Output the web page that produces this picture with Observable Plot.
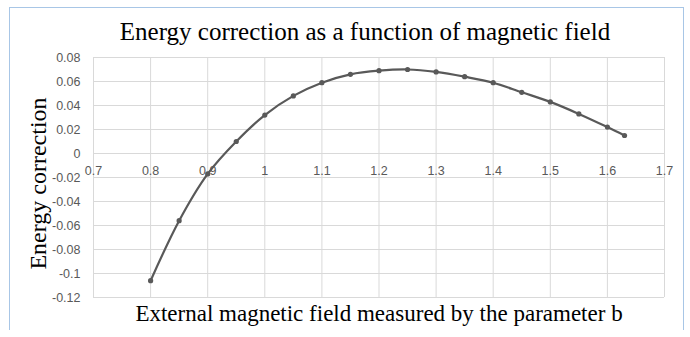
<!DOCTYPE html>
<html>
<head>
<meta charset="utf-8">
<script src="https://cdn.jsdelivr.net/npm/d3@7"></script>
<script src="https://cdn.jsdelivr.net/npm/@observablehq/plot@0.6"></script>
<style>
  html, body { margin: 0; padding: 0; background: #fff; }
  #wrap { position: relative; width: 690px; height: 337px; }
  #frame { position: absolute; left: 9px; top: 7px; width: 673px; height: 322px;
           border-left: 1.5px solid #a8c6e6; border-top: 1.5px solid #a8c6e6; border-right: 1.5px solid #a8c6e6; pointer-events: none; }
  #chart { position: absolute; left: 0; top: 0; }
</style>
</head>
<body>
<div id="wrap"><div id="chart"></div><div id="frame"></div></div>
<script>
const titleText = "Energy correction as a function of magnetic field";
const xLabelText = "External magnetic field measured by the parameter b";
const yLabelText = "Energy correction";

const bValues = [0.8, 0.85, 0.9, 0.95, 1.0, 1.05, 1.1, 1.15, 1.2, 1.25, 1.3, 1.35, 1.4, 1.45, 1.5, 1.55, 1.6, 1.63];
const energyValues = [-0.106, -0.056, -0.017, 0.010, 0.032, 0.048, 0.059, 0.066, 0.069, 0.070, 0.068, 0.064, 0.059, 0.051, 0.043, 0.033, 0.022, 0.015];

const xTicks = [0.7, 0.8, 0.9, 1.0, 1.1, 1.2, 1.3, 1.4, 1.5, 1.6, 1.7];
const xTickLabels = ["0.7", "0.8", "0.9", "1", "1.1", "1.2", "1.3", "1.4", "1.5", "1.6", "1.7"];
const yTicks = [0.08, 0.06, 0.04, 0.02, 0, -0.02, -0.04, -0.06, -0.08, -0.1, -0.12];
const yTickLabels = ["0.08", "0.06", "0.04", "0.02", "0", "-0.02", "-0.04", "-0.06", "-0.08", "-0.1", "-0.12"];

const data = bValues.map((b, i) => ({b, e: energyValues[i]}));
const xTickData = xTicks.map((v, i) => ({v, label: xTickLabels[i]}));

const serif = "'Liberation Serif', 'Times New Roman', serif";
const sans = "'Liberation Sans', Arial, sans-serif";
const lineColor = "#595959";

const chart = Plot.plot({
  width: 690,
  height: 337,
  marginLeft: 93,
  marginRight: 26,
  marginTop: 57,
  marginBottom: 40,
  style: {fontFamily: sans, background: "transparent"},
  x: {domain: [0.7, 1.7], axis: null},
  y: {domain: [-0.12, 0.08], axis: null},
  marks: [
    Plot.gridX(xTicks, {stroke: "#d9d9d9", strokeOpacity: 1, strokeWidth: 1}),
    Plot.gridY(yTicks, {stroke: "#d9d9d9", strokeOpacity: 1, strokeWidth: 1}),
    Plot.axisY(yTicks, {tickSize: 0, tickPadding: 13, tickFormat: (d, i) => yTickLabels[i], fontSize: 12.5, fill: lineColor, label: null}),
    Plot.line(data, {x: "b", y: "e", curve: "catmull-rom", stroke: lineColor, strokeWidth: 2.2}),
    Plot.dot(data, {x: "b", y: "e", r: 2.6, fill: lineColor, stroke: "none"}),
    Plot.text(xTickData, {x: "v", y: () => 0, text: "label", dy: 17, fontSize: 12.5, fill: lineColor}),
    Plot.text([titleText], {frameAnchor: "top", dx: -14, dy: -26, lineAnchor: "middle", fontSize: 25, fontFamily: serif, fill: "#000"}),
    Plot.text([xLabelText], {frameAnchor: "bottom", dx: 0, dy: 16, lineAnchor: "middle", fontSize: 23, fontFamily: serif, fill: "#000"}),
    Plot.text([yLabelText], {frameAnchor: "left", textAnchor: "middle", rotate: -90, dx: -55, dy: 6, lineAnchor: "middle", fontSize: 24, fontFamily: serif, fill: "#000"})
  ]
});
document.getElementById("chart").appendChild(chart);
</script>
</body>
</html>
